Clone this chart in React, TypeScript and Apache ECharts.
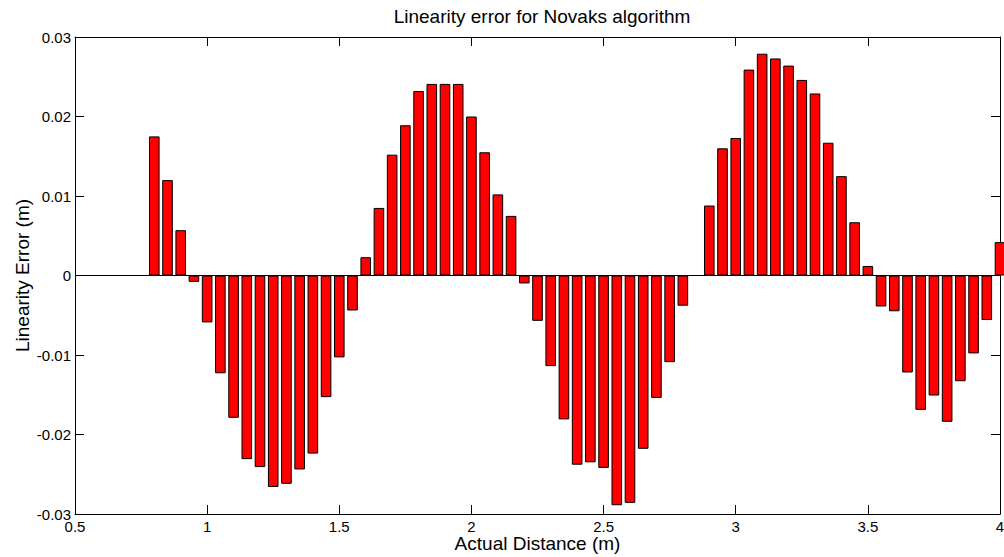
import React, { useEffect, useRef } from "react";
import * as echarts from "echarts";

const distances = [
  0.8, 0.85, 0.9, 0.95, 1.0, 1.05, 1.1, 1.15, 1.2, 1.25, 1.3, 1.35, 1.4, 1.45, 1.5, 1.55,
  1.6, 1.65, 1.7, 1.75, 1.8, 1.85, 1.9, 1.95, 2.0, 2.05, 2.1, 2.15, 2.2, 2.25, 2.3, 2.35,
  2.4, 2.45, 2.5, 2.55, 2.6, 2.65, 2.7, 2.75, 2.8, 2.85, 2.9, 2.95, 3.0, 3.05, 3.1, 3.15,
  3.2, 3.25, 3.3, 3.35, 3.4, 3.45, 3.5, 3.55, 3.6, 3.65, 3.7, 3.75, 3.8, 3.85, 3.9, 3.95,
  4.0,
];

const errors = [
  0.0175, 0.012, 0.0057, -0.0008, -0.0059, -0.0123, -0.0179, -0.0231, -0.0241, -0.0266, -0.0262, -0.0244, -0.0224, -0.0153, -0.0103, -0.0044,
  0.0023, 0.0085, 0.0152, 0.0189, 0.0232, 0.0241, 0.0241, 0.0241, 0.02, 0.0155, 0.0102, 0.0075, -0.001, -0.0057, -0.0114, -0.0181,
  -0.0238, -0.0235, -0.0242, -0.0289, -0.0286, -0.0218, -0.0154, -0.0109, -0.0038, 0.0, 0.0088, 0.016, 0.0173, 0.0259, 0.0279, 0.0273,
  0.0264, 0.0246, 0.0229, 0.0167, 0.0125, 0.0067, 0.0012, -0.0039, -0.0045, -0.0122, -0.0169, -0.0151, -0.0184, -0.0133, -0.0098, -0.0056,
  0.0042,
];

const titleText = "Linearity error for Novaks algorithm";
const xName = "Actual Distance (m)";
const yName = "Linearity Error (m)";

const FONT = "'Liberation Sans', Arial, Helvetica, sans-serif";

export default function App() {
  const ref = useRef<HTMLDivElement>(null);
  useEffect(() => {
    if (!ref.current) return;
    const chart = echarts.init(ref.current, undefined, { renderer: "svg" });
    const axisLine = { show: true, lineStyle: { color: "#000", width: 1 } };
    const tick = { show: true, inside: true, length: 9, lineStyle: { color: "#000", width: 1 } };
    const labelStyle = { color: "#000", fontSize: 15, fontFamily: FONT };
    chart.setOption({
      animation: false,
      backgroundColor: "#fff",
      title: {
        text: titleText,
        left: 537,
        textAlign: "center",
        top: 2,
        textStyle: { color: "#000", fontSize: 19, fontWeight: "normal", fontFamily: FONT },
      },
      grid: {
        left: 75,
        right: 4,
        top: 37,
        bottom: 43,
        containLabel: false,
        outerBoundsMode: "none",
      },
      xAxis: [
        {
          type: "value",
          min: 0.5,
          max: 4,
          interval: 0.5,
          position: "bottom",
          axisLine: { ...axisLine, onZero: false },
          axisTick: tick,
          splitLine: { show: false },
          axisLabel: { ...labelStyle, margin: 5 },
          name: xName,
          nameLocation: "middle",
          nameGap: 20,
          nameMoveOverlap: false,
          nameTextStyle: { color: "#000", fontSize: 19, fontFamily: FONT },
        },
        {
          type: "value",
          min: 0.5,
          max: 4,
          interval: 0.5,
          position: "top",
          axisLine: { ...axisLine, onZero: false },
          axisTick: tick,
          splitLine: { show: false },
          axisLabel: { show: false },
        },
      ],
      yAxis: [
        {
          type: "value",
          min: -0.03,
          max: 0.03,
          interval: 0.01,
          position: "left",
          axisLine: { ...axisLine, onZero: false },
          axisTick: tick,
          splitLine: { show: false },
          axisLabel: {
            ...labelStyle,
            margin: 4,
            formatter: (v: number) => (Math.abs(v) < 1e-9 ? "0" : v.toFixed(2)),
          },
          name: yName,
          nameLocation: "middle",
          nameGap: 43,
          nameMoveOverlap: false,
          nameTextStyle: { color: "#000", fontSize: 19, fontFamily: FONT },
        },
        {
          type: "value",
          min: -0.03,
          max: 0.03,
          interval: 0.01,
          position: "right",
          axisLine: { ...axisLine, onZero: false },
          axisTick: tick,
          splitLine: { show: false },
          axisLabel: { show: false },
        },
      ],
      series: [
        {
          type: "bar",
          xAxisIndex: 0,
          yAxisIndex: 0,
          barWidth: 10.6,
          clip: true,
          data: distances.map((d, i) => [d, errors[i]]),
          itemStyle: { color: "#ff0000", borderColor: "#000", borderWidth: 1 },
          markLine: {
            silent: true,
            symbol: "none",
            label: { show: false },
            lineStyle: { color: "#000", width: 1, type: "solid" },
            data: [{ yAxis: 0 }],
          },
        },
      ],
    });
    return () => chart.dispose();
  }, []);
  return (
    <div
      ref={ref}
      style={{ position: "absolute", left: 0, top: 0, width: 1004, height: 557 }}
    />
  );
}
